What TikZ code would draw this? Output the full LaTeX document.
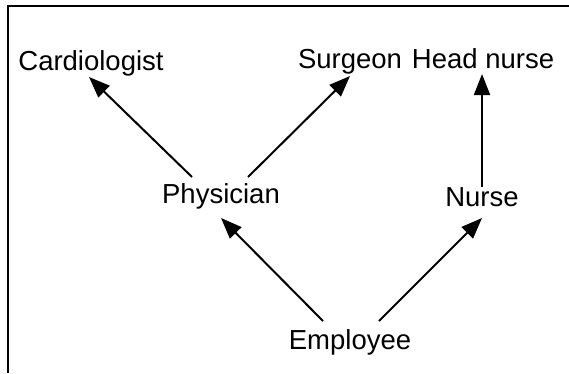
\documentclass[tikz,border=0pt]{standalone}
\usepackage{fontspec}
\setmainfont{Liberation Sans}
\usetikzlibrary{arrows.meta}
\begin{document}
\begin{tikzpicture}[x=1pt,y=-1pt,
  lbl/.style={anchor=base,inner sep=0pt,font=\fontsize{27.5}{32}\selectfont},
  conn/.style={line width=2pt,-{Triangle[length=21pt,width=16pt]}},
  frame/.style={line width=1.6pt}]
\useasboundingbox (0,0) rectangle (569,373);
\coordinate (fbl) at (8,373);
\coordinate (ftl) at (8,6);
\coordinate (ftr) at (569,6);
\draw[frame] (fbl) -- (ftl) -- (ftr);
\node[lbl] (card) at (91,70) {Cardiologist};
\node[lbl] (surg) at (350,68) {Surgeon};
\node[lbl] (head) at (483,68) {Head nurse};
\node[lbl] (phys) at (221,203) {Physician};
\node[lbl] (nurse) at (482,206) {Nurse};
\node[lbl] (emp) at (350,349) {Employee};
\draw[conn] ([shift={(-29,-26)}]phys.base) -- ([shift={(-2,7)}]card.base);
\draw[conn] ([shift={(27,-26)}]phys.base) -- ([shift={(0,8)}]surg.base);
\draw[conn] ([shift={(0,-19)}]nurse.base) -- ([shift={(-1,6)}]head.base);
\draw[conn] ([shift={(-27,-28)}]emp.base) -- ([shift={(0,15)}]phys.base);
\draw[conn] ([shift={(29,-28)}]emp.base) -- ([shift={(0,12)}]nurse.base);
\end{tikzpicture}
\end{document}
